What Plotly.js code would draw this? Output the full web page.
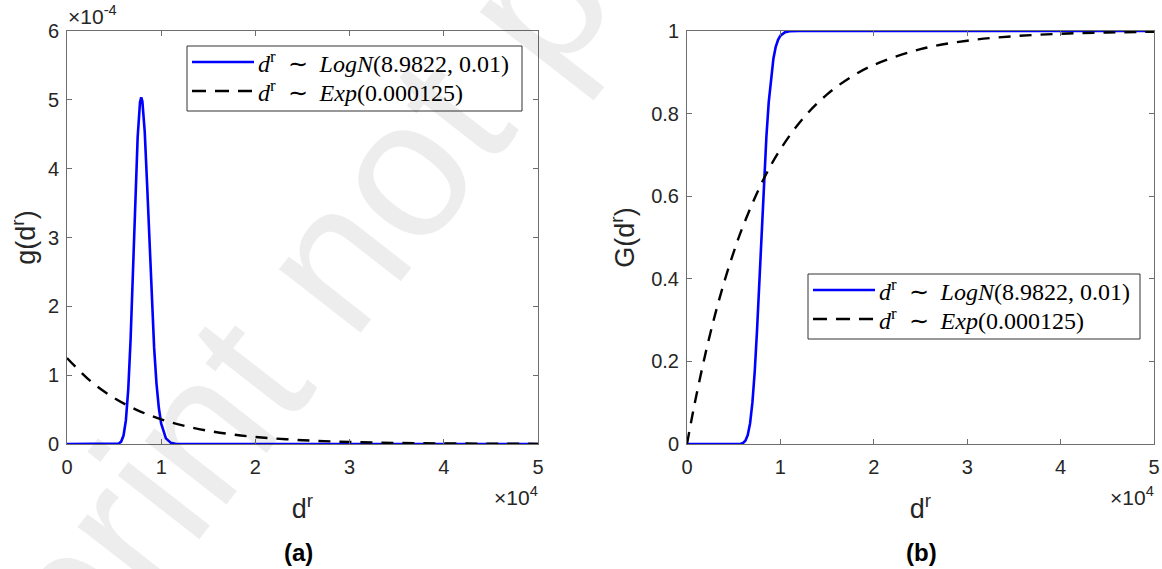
<!DOCTYPE html>
<html>
<head>
<meta charset="utf-8">
<script src="https://cdn.plot.ly/plotly-3.0.1.min.js"></script>
<style>html,body{margin:0;padding:0;background:#fff;}#chart{width:1162px;height:569px;}</style>
</head>
<body>
<div id="chart"></div>
<script>
// x in units of 1e4, pdf in units of 1e-4
const logX   = [0, 0.5, 0.55, 0.575, 0.6, 0.625, 0.65, 0.675, 0.7, 0.725, 0.75, 0.775, 0.788, 0.8, 0.825, 0.85, 0.875, 0.9, 0.925, 0.95, 0.975, 1.0, 1.05, 1.1, 1.15, 1.2, 5.0];
const logPdf = [0, 0.0002, 0.0078, 0.035, 0.1226, 0.343, 0.789, 1.517, 2.496, 3.558, 4.456, 4.967, 5.037, 4.981, 4.537, 3.784, 2.914, 2.086, 1.396, 0.878, 0.523, 0.296, 0.082, 0.0194, 0.004, 0.0008, 0];
const logCdf = [0, 0, 0.0001, 0.0006, 0.0024, 0.0078, 0.0214, 0.0496, 0.0994, 0.175, 0.276, 0.395, 0.46, 0.520, 0.640, 0.744, 0.828, 0.890, 0.933, 0.9616, 0.9788, 0.9887, 0.9972, 0.9994, 0.9999, 1.0, 1.0];

const expPdfX = [0, 0.25, 0.5, 0.75, 1.0, 1.25, 1.5, 1.75, 2.0, 2.5, 3.0, 3.5, 4.0, 4.5, 5.0];
const expPdf  = [1.25, 0.9145, 0.669, 0.4895, 0.358, 0.262, 0.1917, 0.140, 0.1026, 0.0549, 0.0294, 0.0157, 0.0084, 0.0045, 0.0024];

const expCdfX = [0, 0.05, 0.1, 0.2, 0.3, 0.4, 0.5, 0.6, 0.8, 1.0, 1.25, 1.5, 1.75, 2.0, 2.5, 3.0, 3.5, 4.0, 4.5, 5.0];
const expCdf  = [0, 0.0606, 0.1175, 0.2212, 0.3127, 0.3935, 0.4647, 0.5276, 0.6321, 0.7135, 0.7904, 0.8466, 0.8878, 0.9179, 0.9561, 0.9765, 0.9874, 0.9933, 0.9964, 0.9981];

const xTicks  = [0, 1, 2, 3, 4, 5];
const yTicksA = [0, 1, 2, 3, 4, 5, 6];
const yTicksB = [0, 0.2, 0.4, 0.6, 0.8, 1];
const yTickTextB = ['0', '0.2', '0.4', '0.6', '0.8', '1'];

const nameLog = '<i>d</i><sup>r</sup>  ∼  <i>LogN</i>(8.9822, 0.01)';
const nameExp = '<i>d</i><sup>r</sup>  ∼  <i>Exp</i>(0.000125)';

const W = 1162, H = 569;
const X = p => p / W;
const Y = p => 1 - p / H;

const BLUE = '#0000ff';
const DASH = '12px,9px';
const AXC = '#6e6e6e';
const TXT = '#262626';

const traces = [
  {x: logX, y: logPdf, xaxis: 'x', yaxis: 'y', mode: 'lines', name: 'LogN', line: {color: BLUE, width: 2.6}},
  {x: expPdfX, y: expPdf, xaxis: 'x', yaxis: 'y', mode: 'lines', name: 'Exp', line: {color: '#000', width: 2.4, dash: DASH, shape: 'spline'}},
  {x: logX, y: logCdf, xaxis: 'x2', yaxis: 'y2', mode: 'lines', name: 'LogN', line: {color: BLUE, width: 2.6}},
  {x: expCdfX, y: expCdf, xaxis: 'x2', yaxis: 'y2', mode: 'lines', name: 'Exp', line: {color: '#000', width: 2.4, dash: DASH, shape: 'spline'}}
];

const tickFont = {family: 'Liberation Sans, Arial, sans-serif', size: 20, color: TXT};
const titleFont = {family: 'Liberation Sans, Arial, sans-serif', size: 27, color: TXT};

function xax(dom, anchor) {
  return {domain: dom, anchor: anchor, range: [0, 5], tickvals: xTicks, ticktext: xTicks.map(String),
    ticks: 'inside', ticklen: 5, tickcolor: AXC, showline: true, linecolor: AXC, linewidth: 1, mirror: 'ticks',
    showgrid: false, zeroline: false, tickfont: tickFont, fixedrange: true, ticklabelstandoff: 5,
    title: {text: 'd<sup>r</sup>', font: titleFont, standoff: 22}};
}
function yax(range, tv, tt, title, anchor, standoff) {
  return {domain: [Y(444), Y(31)], anchor: anchor, range: range, tickvals: tv, ticktext: tt,
    ticks: 'inside', ticklen: 5, tickcolor: AXC, showline: true, linecolor: AXC, linewidth: 1, mirror: 'ticks',
    showgrid: false, zeroline: false, tickfont: tickFont, fixedrange: true, ticklabelstandoff: 3,
    title: {text: title, font: titleFont, standoff: standoff}};
}

const shapes = [];
const annotations = [];

// watermark
annotations.push({xref: 'paper', yref: 'paper', x: X(550), y: Y(-20), xanchor: 'center', yanchor: 'middle',
  text: 'Preprint not peer reviewed', showarrow: false, textangle: -52,
  font: {family: 'Liberation Sans, Arial, sans-serif', size: 196, color: 'rgba(0,0,0,0.072)'}});

function legend(x0, y0, x1, y1) {
  shapes.push({type: 'rect', xref: 'paper', yref: 'paper', x0: X(x0), x1: X(x1), y0: Y(y0), y1: Y(y1),
    line: {color: '#333', width: 1}, fillcolor: '#fff', layer: 'above'});
  const l1 = y0 + 16, l2 = y0 + 45;
  shapes.push({type: 'line', xref: 'paper', yref: 'paper', x0: X(x0 + 5), x1: X(x0 + 67), y0: Y(l1), y1: Y(l1),
    line: {color: BLUE, width: 2.6}, layer: 'above'});
  shapes.push({type: 'line', xref: 'paper', yref: 'paper', x0: X(x0 + 5), x1: X(x0 + 67), y0: Y(l2), y1: Y(l2),
    line: {color: '#000', width: 2.4, dash: '14px,9px'}, layer: 'above'});
  const lf = {family: 'Liberation Serif, Times New Roman, serif', size: 24, color: '#000'};
  annotations.push({xref: 'paper', yref: 'paper', x: X(x0 + 69), y: Y(l1), xanchor: 'left', yanchor: 'middle',
    text: nameLog, showarrow: false, font: lf});
  annotations.push({xref: 'paper', yref: 'paper', x: X(x0 + 69), y: Y(l2), xanchor: 'left', yanchor: 'middle',
    text: nameExp, showarrow: false, font: lf});
}
legend(187, 46, 522, 111);
legend(808, 274, 1140, 339);

const smallFont = {family: 'Liberation Sans, Arial, sans-serif', size: 21, color: TXT};
annotations.push({xref: 'paper', yref: 'paper', x: X(66), y: Y(30), xanchor: 'left', yanchor: 'bottom',
  text: '×10<sup>-4</sup>', showarrow: false, font: smallFont});
annotations.push({xref: 'paper', yref: 'paper', x: X(540), y: Y(496), xanchor: 'right', yanchor: 'middle',
  text: '×10<sup>4</sup>', showarrow: false, font: smallFont});
annotations.push({xref: 'paper', yref: 'paper', x: X(1156), y: Y(496), xanchor: 'right', yanchor: 'middle',
  text: '×10<sup>4</sup>', showarrow: false, font: smallFont});
const capFont = {family: 'Liberation Sans, Arial, sans-serif', size: 24, color: '#000', weight: 'bold'};
annotations.push({xref: 'paper', yref: 'paper', x: X(298), y: Y(552), xanchor: 'center', yanchor: 'middle',
  text: '<b>(a)</b>', showarrow: false, font: capFont});
annotations.push({xref: 'paper', yref: 'paper', x: X(921), y: Y(552), xanchor: 'center', yanchor: 'middle',
  text: '<b>(b)</b>', showarrow: false, font: capFont});

const layout = {
  width: W, height: H, margin: {l: 0, r: 0, t: 0, b: 0},
  paper_bgcolor: '#fff', plot_bgcolor: 'rgba(0,0,0,0)', showlegend: false,
  xaxis: xax([X(67), X(538)], 'y'),
  yaxis: yax([0, 6], yTicksA, yTicksA.map(String), 'g(d<sup>r</sup>)', 'x', 4),
  xaxis2: xax([X(687), X(1154)], 'y2'),
  yaxis2: yax([0, 1], yTicksB, yTickTextB, 'G(d<sup>r</sup>)', 'x2', 8),
  shapes: shapes, annotations: annotations
};

Plotly.newPlot('chart', traces, layout, {staticPlot: true, displayModeBar: false});
</script>
</body>
</html>
